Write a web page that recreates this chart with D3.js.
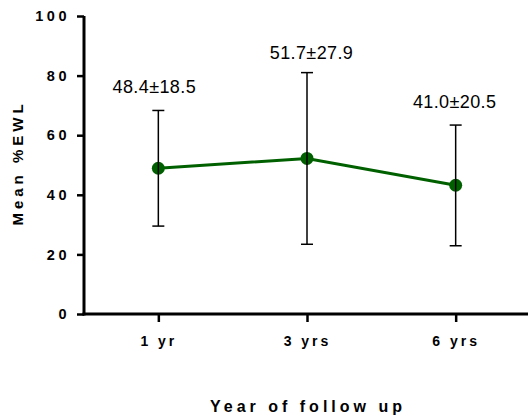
<!DOCTYPE html>
<html>
<head>
<meta charset="utf-8">
<script src="https://cdn.jsdelivr.net/npm/d3@7"></script>
<style>
  body { margin: 0; background: #fff; }
  svg text { font-family: "Liberation Sans", Arial, sans-serif; }
</style>
</head>
<body>
<div id="chart"></div>
<script>
// Data
const categories = ["1 yr", "3 yrs", "6 yrs"];
const means = [48.9, 52.2, 43.2];
const upper = [68.3, 81.0, 63.4];
const lower = [29.5, 23.4, 22.9];
const labels = ["48.4±18.5", "51.7±27.9", "41.0±20.5"];
const yTicks = [0, 20, 40, 60, 80, 100];

const width = 528, height = 416;
const margin = { left: 84, right: -2, top: 16, bottom: 102 };

const svg = d3.select("#chart")
    .append("svg")
    .attr("width", width)
    .attr("height", height);

// Scales
const x = d3.scalePoint()
    .domain(categories)
    .range([margin.left, width - margin.right])
    .padding(0.5);

const y = d3.scaleLinear()
    .domain([0, 100])
    .range([height - margin.bottom, margin.top]);

// Y axis
const yAxis = svg.append("g")
    .attr("transform", `translate(${margin.left},0)`)
    .call(d3.axisLeft(y).tickValues(yTicks).tickSize(7).tickPadding(7));
yAxis.select(".domain").attr("stroke-width", 3).attr("d", `M0,${y(100)}V${y(0) + 1.5}`);
yAxis.selectAll(".tick line").attr("stroke-width", 2.5);
yAxis.selectAll(".tick text")
    .style("font-size", "14.5px")
    .style("font-weight", "bold")
    .style("letter-spacing", "3.5px")
    .attr("fill", "#000");

// X axis
const xAxis = svg.append("g")
    .attr("transform", `translate(0,${y(0)})`)
    .call(d3.axisBottom(x).tickSize(8).tickSizeOuter(0).tickPadding(14));
xAxis.select(".domain").attr("stroke-width", 3).attr("d", `M${margin.left - 1.5},0H${width}`);
xAxis.selectAll(".tick line").attr("stroke-width", 2.5);
xAxis.selectAll(".tick text")
    .style("font-size", "14px")
    .style("font-weight", "bold")
    .style("letter-spacing", "3px")
    .attr("fill", "#000");

// Axis titles
svg.append("text")
    .attr("x", 308)
    .attr("y", 412)
    .attr("text-anchor", "middle")
    .style("font-size", "16px")
    .style("font-weight", "bold")
    .style("letter-spacing", "4px")
    .text("Year of follow up");

svg.append("text")
    .attr("transform", `translate(23,${163}) rotate(-90)`)
    .attr("text-anchor", "middle")
    .style("font-size", "15px")
    .style("font-weight", "bold")
    .style("letter-spacing", "4px")
    .text("Mean %EWL");

// Mean line
const pts = categories.map((c, i) => [x(c), y(means[i])]);
svg.append("path")
    .attr("d", d3.line()(pts))
    .attr("fill", "none")
    .attr("stroke", "#006000")
    .attr("stroke-width", 3);

svg.selectAll("circle.pt")
    .data(categories)
    .enter().append("circle")
    .attr("class", "pt")
    .attr("cx", d => x(d))
    .attr("cy", (d, i) => y(means[i]))
    .attr("r", 6.5)
    .attr("fill", "#006000");

// Error bars (drawn over the markers)
const bars = svg.selectAll("g.err")
    .data(categories)
    .enter().append("g")
    .attr("class", "err")
    .attr("stroke", "#000")
    .attr("stroke-width", 1.5);

bars.append("line")
    .attr("x1", d => x(d)).attr("x2", d => x(d))
    .attr("y1", (d, i) => y(upper[i])).attr("y2", (d, i) => y(lower[i]));
bars.append("line")
    .attr("x1", d => x(d) - 6).attr("x2", d => x(d) + 6)
    .attr("y1", (d, i) => y(upper[i])).attr("y2", (d, i) => y(upper[i]));
bars.append("line")
    .attr("x1", d => x(d) - 6).attr("x2", d => x(d) + 6)
    .attr("y1", (d, i) => y(lower[i])).attr("y2", (d, i) => y(lower[i]));

// Value labels above the error bars (small hand nudges like the original)
const labelDx = [-4, 4.5, -1];
svg.selectAll("text.lbl")
    .data(categories)
    .enter().append("text")
    .attr("class", "lbl")
    .attr("x", (d, i) => x(d) + labelDx[i])
    .attr("y", (d, i) => y(upper[i]) - (i === 1 ? 13.5 : 17.5))
    .attr("text-anchor", "middle")
    .style("font-size", "18px")
    .style("letter-spacing", "0.4px")
    .text((d, i) => labels[i]);
</script>
</body>
</html>
